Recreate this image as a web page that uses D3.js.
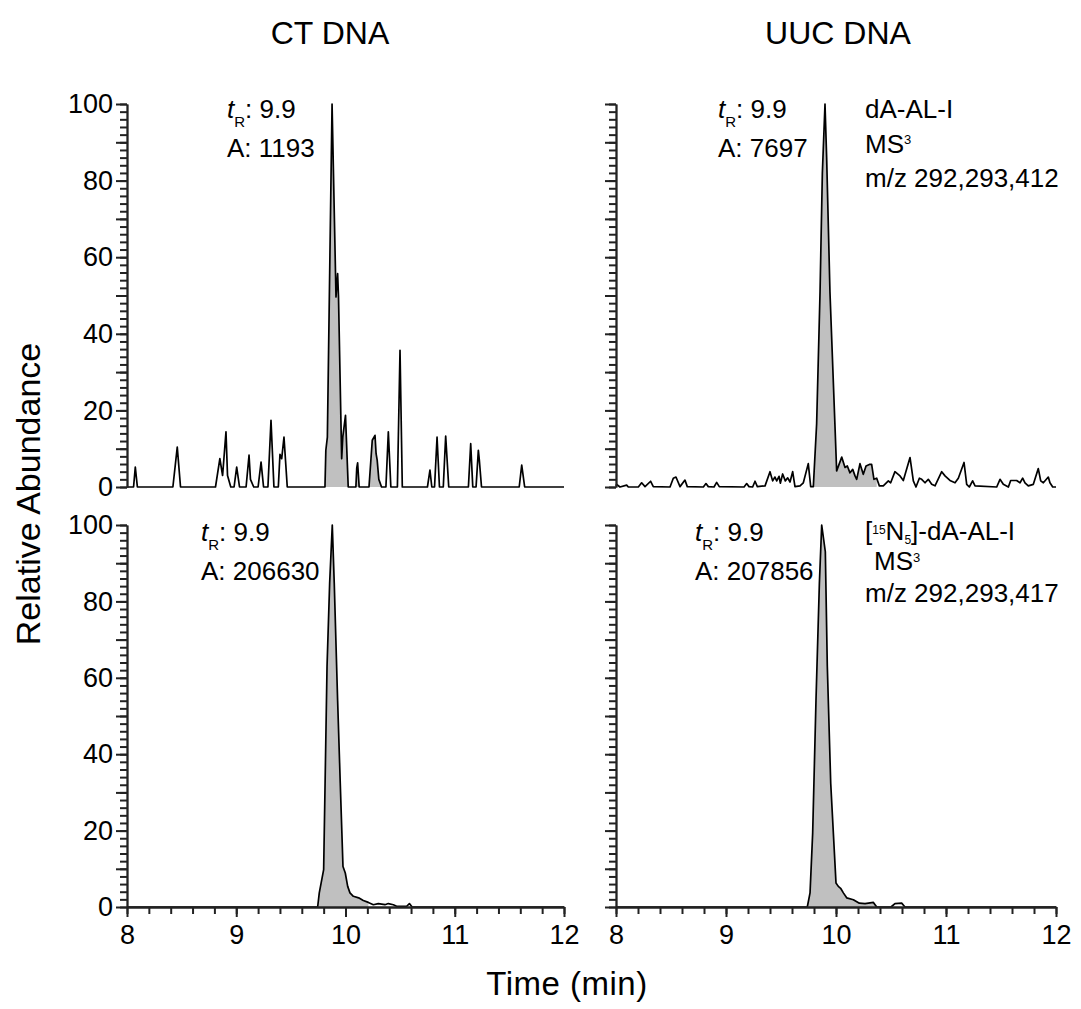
<!DOCTYPE html>
<html>
<head>
<meta charset="utf-8">
<script src="https://cdn.jsdelivr.net/npm/d3@7"></script>
<style>
body{margin:0;background:#fff;}
text{font-family:"Liberation Sans", Arial, sans-serif;fill:#000;}
</style>
</head>
<body>
<div id="chart"></div>
<script>
// ---- data ----
var columnTitles = ["CT DNA", "UUC DNA"];
var xTickValues = [8, 9, 10, 11, 12];
var yTickValues = [0, 20, 40, 60, 80, 100];

// CT DNA, dA-AL-I (m/z 292,293,412)
var ctAdductTime = [8.00,8.06,8.076,8.095,8.42,8.46,8.49,8.81,8.85,8.875,8.906,8.92,8.95,8.98,9.004,9.03,9.09,9.117,9.13,9.16,9.20,9.227,9.25,9.29,9.318,9.345,9.385,9.40,9.416,9.437,9.467,
    9.812,9.82,9.834,9.877,9.913,9.928,9.936,9.965,9.975,10.0,10.025,10.095,10.103,10.111,10.125,10.215,10.245,10.27,10.28,10.29,10.305,10.33,
    10.37,10.392,10.415,10.475,10.499,10.52,10.75,10.773,10.79,10.815,10.838,10.86,10.895,10.917,10.945,11.125,11.146,11.165,11.195,11.216,11.225,11.245,11.59,11.613,11.64,12.0];
var ctAdductAbund = [0,0,5.2,0,0,10.4,0,0,7.4,3,14.4,3,0,0,5.2,0,0,8.3,2,0,0,6.5,0,0,17.4,0,0,8.5,7.4,13,0,
    0,9.6,13,100,49.6,55.7,49.6,7.4,13,18.7,0,0,5,6.3,0,0,12.2,13.5,8.7,7,2,0,
    0,14.4,0,0,35.7,0,0,4.4,0,0,13,0,0,13.3,0,0,11.3,0,0,9.6,7,0,0,5.7,0,0];

// UUC DNA, dA-AL-I (m/z 292,293,412)
var uucAdductTime = [8.00,8.006,8.036,8.097,8.112,8.203,8.233,8.264,8.315,8.339,8.491,8.521,8.545,8.582,8.627,8.648,8.794,8.818,8.839,8.891,8.915,8.939,
    9.164,9.188,9.209,9.242,9.264,9.285,9.355,9.40,9.424,9.445,9.461,9.482,9.494,9.515,9.539,9.561,9.582,9.606,9.627,9.673,9.703,9.748,9.770,9.794,
    9.824,9.855,9.876,9.90,9.915,9.945,9.991,10.006,10.052,10.082,10.103,10.127,10.152,10.173,10.188,10.218,10.248,10.273,10.303,10.324,10.345,10.37,10.394,10.43,
    10.476,10.497,10.536,10.582,10.612,10.673,10.703,10.727,10.758,10.779,10.809,10.839,10.87,10.90,10.961,10.991,11.036,11.082,11.112,11.164,11.188,11.212,11.242,11.264,
    11.461,11.491,11.521,11.567,11.588,11.642,11.673,11.697,11.718,11.748,11.794,11.839,11.861,11.885,11.93,11.945,11.97,12.0];
var uucAdductAbund = [0.3,0.7,0,0.5,0,0,1.1,0.1,1.5,0.1,0,2.3,2.6,0.1,1.8,0.1,0,0.9,0.1,0,1.2,0.1,
    0,0.9,0.1,0,1.5,0.1,0.3,4.0,1.6,2.6,1.6,2.8,1.0,3.4,1.6,2.4,1.3,4.0,0.1,0.3,1.1,6.1,0.1,0.1,
    16.5,51,82,100,86,51,15.7,4.2,7.8,5.1,5.5,3.7,4.6,2.9,2.0,6.1,3.3,5.5,5.9,5.9,2.0,2.3,0.3,0.3,
    1.6,1.1,4.0,2.9,1.7,7.7,1.6,0,2.3,2.0,1.1,2.0,0.7,0.3,4.0,2.9,1.7,1.1,2.3,6.4,0.7,0,1.6,0.3,
    0,2.0,0.7,0,1.7,1.7,1.1,2.3,1.1,0.3,0.7,4.8,1.6,1.1,2.6,1.1,0,0];

// CT DNA, [15N5]-dA-AL-I internal standard
var ctStdTime = [8.00,9.745,9.76,9.80,9.831,9.855,9.879,9.897,9.928,9.952,9.977,9.998,10.02,10.041,10.072,10.12,10.163,10.209,10.255,10.30,10.361,10.392,10.438,10.468,10.56,10.585,10.61,12.0];
var ctStdAbund = [0,0,3.7,9.8,63,84.8,100,84.8,54,32.4,10.6,8.9,5.4,3.7,2.8,2.4,1.7,1.2,0.6,0.9,0.6,0.9,0.6,0.2,0.2,0.9,0,0];

// UUC DNA, [15N5]-dA-AL-I internal standard
var uucStdTime = [8.00,9.739,9.764,9.788,9.818,9.849,9.870,9.903,9.921,9.952,10.0,10.021,10.042,10.067,10.097,10.158,10.212,10.264,10.34,10.37,10.50,10.536,10.597,10.627,12.0];
var uucStdAbund = [0,0,3.7,19.4,54,84.8,100,93,63,32.4,6.3,5.4,4.9,3.7,2.4,1.9,1.0,0.9,1.2,0,0,0.9,1.0,0,0];

// integrated windows (min) and peak annotations
var fillWindows = [[9.80, 10.34], [9.78, 10.37], [9.74, 10.24], [9.73, 10.37]];
var retentionTimes = ["9.9", "9.9", "9.9", "9.9"];
var peakAreas = ["1193", "7697", "206630", "207856"];
var mzLabels = ["m/z 292,293,412", "m/z 292,293,417"];

// ---- layout ----
var svgWidth = 1081, svgHeight = 1009;
var colX = [[127, 564], [616, 1056]];
var rowY = [[104, 487], [525, 907]];
var fontFam = '"Liberation Sans", Arial, sans-serif';
var axisColor = "#222";

var svg = d3.select("#chart").append("svg")
    .attr("width", svgWidth)
    .attr("height", svgHeight);

var panels = [
    {row: 0, col: 0, t: ctAdductTime, v: ctAdductAbund, ann: [100, 14]},
    {row: 0, col: 1, t: uucAdductTime, v: uucAdductAbund, ann: [102, 14]},
    {row: 1, col: 0, t: ctStdTime, v: ctStdAbund, ann: [74, 16]},
    {row: 1, col: 1, t: uucStdTime, v: uucStdAbund, ann: [79, 16]}
];

panels.forEach(function(p, i){
    var x = d3.scaleLinear().domain([8, 12]).range(colX[p.col]);
    var y = d3.scaleLinear().domain([0, 100]).range([rowY[p.row][1], rowY[p.row][0]]);
    var pts = p.t.map(function(t, k){ return {t: t, v: p.v[k]}; });
    var win = fillWindows[i];
    var x0 = colX[p.col][0];
    var yb = rowY[p.row][1];
    var g = svg.append("g");

    // shaded integration area
    var area = d3.area()
        .x(d => x(d.t))
        .y0(y(0))
        .y1(d => y(d.v));
    g.append("path")
        .datum(pts.filter(d => d.t >= win[0] && d.t <= win[1]))
        .attr("d", area)
        .attr("fill", "#c0c0c0")
        .attr("stroke", "none");

    // trace
    var line = d3.line().x(d => x(d.t)).y(d => y(d.v));
    g.append("path")
        .datum(pts)
        .attr("d", line)
        .attr("fill", "none")
        .attr("stroke", "#000")
        .attr("stroke-width", 1.7)
        .attr("stroke-linejoin", "round");

    // y axis: minor ticks every 2, longer ticks every 10, labels every 20 (left column only)
    var yAxisG = svg.append("g").attr("class", "yaxis").attr("transform", `translate(${x0},0)`);
    yAxisG.call(d3.axisLeft(y).tickValues(d3.range(0, 101, 2)).tickSize(7).tickSizeOuter(0).tickFormat(""));
    var yMajorG = svg.append("g").attr("transform", `translate(${x0},0)`);
    yMajorG.call(d3.axisLeft(y).tickValues(d3.range(0, 101, 10)).tickSize(11).tickSizeOuter(0).tickPadding(3)
            .tickFormat(d => (p.col == 0 && yTickValues.indexOf(d) >= 0) ? d : ""));

    // x axis on bottom row only
    if (p.row == 1){
        svg.append("g").attr("transform", `translate(0,${yb})`)
            .call(d3.axisBottom(x).tickValues(d3.range(0, 21).map(k => 8 + k * 0.2)).tickSize(7).tickSizeOuter(0).tickFormat(""));
        svg.append("g").attr("transform", `translate(0,${yb})`)
            .call(d3.axisBottom(x).tickValues(xTickValues).tickSize(10).tickSizeOuter(0).tickPadding(8)
                .tickFormat(d3.format("d")));
    }

    // annotations: retention time and area
    var ax = x0 + p.ann[0];
    var ay = rowY[p.row][0] + p.ann[1];
    var tr = g.append("text").attr("x", ax).attr("y", ay).attr("font-size", 26);
    tr.append("tspan").attr("font-style", "italic").text("t");
    tr.append("tspan").attr("font-size", 15).attr("dy", 9).text("R");
    tr.append("tspan").attr("dy", -9).text(": " + retentionTimes[i]);
    g.append("text").attr("x", ax).attr("y", ay + 39).attr("font-size", 26)
        .text("A: " + peakAreas[i]);
});

svg.selectAll(".domain").attr("stroke", axisColor).attr("stroke-width", 1.8);
svg.selectAll(".tick line").attr("stroke", axisColor).attr("stroke-width", 2);
svg.selectAll(".tick text").attr("font-size", 27).attr("font-family", fontFam).attr("fill", "#000");

// analyte labels (right column)
var lx = colX[1][0] + 249;
svg.append("text").attr("x", lx).attr("y", 118).attr("font-size", 26).text("dA-AL-I");
var l2 = svg.append("text").attr("x", lx).attr("y", 153).attr("font-size", 26);
l2.append("tspan").text("MS");
l2.append("tspan").attr("font-size", 13).attr("dy", -9).text("3");
svg.append("text").attr("x", lx).attr("y", 187).attr("font-size", 26).text(mzLabels[0]);

var l4 = svg.append("text").attr("x", lx).attr("y", 540).attr("font-size", 26);
l4.append("tspan").text("[");
l4.append("tspan").attr("font-size", 12).attr("dy", -6).text("15");
l4.append("tspan").attr("dy", 6).text("N");
l4.append("tspan").attr("font-size", 12).attr("dy", 4).text("5");
l4.append("tspan").attr("dy", -4).text("]-dA-AL-I");
var l5 = svg.append("text").attr("x", lx + 9).attr("y", 570).attr("font-size", 26);
l5.append("tspan").text("MS");
l5.append("tspan").attr("font-size", 13).attr("dy", -8).text("3");
svg.append("text").attr("x", lx).attr("y", 602).attr("font-size", 26).text(mzLabels[1]);

// column titles and axis titles
svg.selectAll(".coltitle").data(columnTitles).enter().append("text")
    .attr("x", (d, i) => i == 0 ? 330 : 838)
    .attr("y", 44)
    .attr("text-anchor", "middle")
    .attr("font-size", 32)
    .text(d => d);

svg.append("text")
    .attr("transform", "translate(40,494) rotate(-90)")
    .attr("text-anchor", "middle")
    .attr("font-size", 34)
    .text("Relative Abundance");

svg.append("text")
    .attr("x", 567)
    .attr("y", 995)
    .attr("text-anchor", "middle")
    .attr("font-size", 33)
    .attr("letter-spacing", 0.5)
    .text("Time (min)");
</script>
</body>
</html>
